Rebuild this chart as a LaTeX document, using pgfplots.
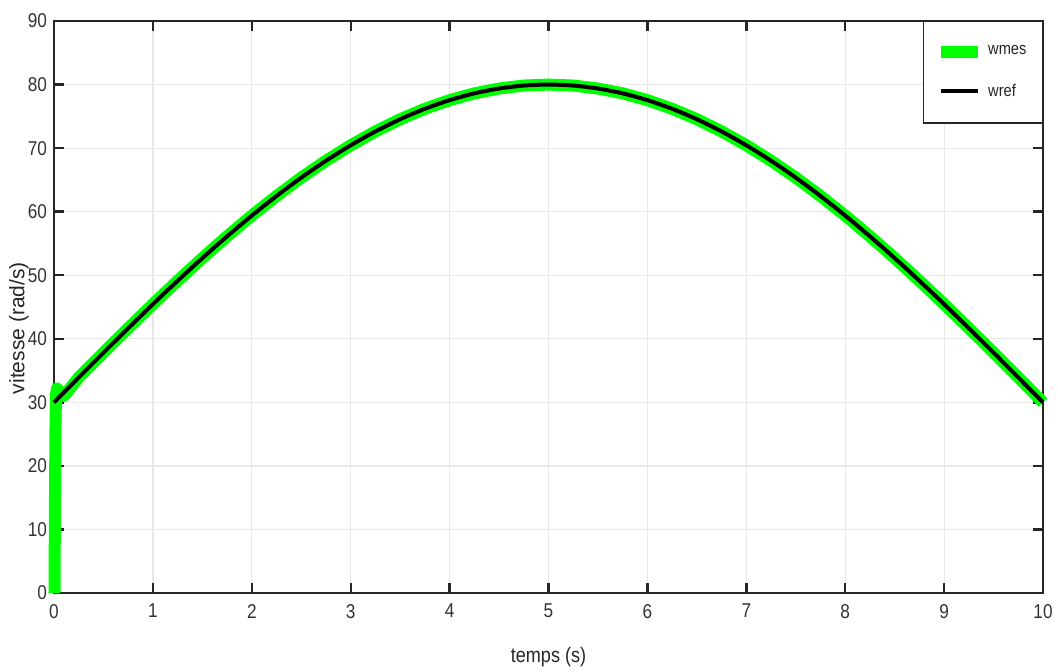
\documentclass[border=0pt]{standalone}
\usepackage{pgfplots}
\pgfplotsset{compat=1.18}
\usepackage{fontspec}
\setmainfont{Liberation Sans}
\newfontfamily\narrowfont[FakeStretch=0.86]{Liberation Sans}
\definecolor{mgreen}{RGB}{0,255,0}

\pgfplotstableread{
t w
0 30
0.25 33.92
0.5 37.82
0.75 41.67
1 45.45
1.25 49.13
1.5 52.70
1.75 56.12
2 59.39
2.25 62.47
2.5 65.36
2.75 68.02
3 70.45
3.25 72.63
3.5 74.55
3.75 76.19
4 77.55
4.25 78.62
4.5 79.38
4.75 79.85
5 80
5.25 79.85
5.5 79.38
5.75 78.62
6 77.55
6.25 76.19
6.5 74.55
6.75 72.63
7 70.45
7.25 68.02
7.5 65.36
7.75 62.47
8 59.39
8.25 56.12
8.5 52.70
8.75 49.13
9 45.45
9.25 41.67
9.5 37.82
9.75 33.92
10 30
}\wref

\pgfplotstableread{
t w
0.005 0
0.01 15
0.015 26
0.02 31.2
0.03 32.2
0.06 31.6
0.1 31.0
0.25 33.92
0.5 37.82
0.75 41.67
1 45.45
1.25 49.13
1.5 52.70
1.75 56.12
2 59.39
2.25 62.47
2.5 65.36
2.75 68.02
3 70.45
3.25 72.63
3.5 74.55
3.75 76.19
4 77.55
4.25 78.62
4.5 79.38
4.75 79.85
5 80
5.25 79.85
5.5 79.38
5.75 78.62
6 77.55
6.25 76.19
6.5 74.55
6.75 72.63
7 70.45
7.25 68.02
7.5 65.36
7.75 62.47
8 59.39
8.25 56.12
8.5 52.70
8.75 49.13
9 45.45
9.25 41.67
9.5 37.82
9.75 33.92
10 30
}\wmes

\begin{document}
\begin{tikzpicture}
\begin{axis}[
  scale only axis,
  width=494.5pt, height=286pt,
  xmin=0, xmax=10, ymin=0, ymax=90,
  xtick={0,1,...,10}, ytick={0,10,...,90},
  tick align=inside,
  major tick length=5pt,
  tick style={black!85, line width=1.2pt},
  axis line style={black!85, line width=1pt},
  grid=major, grid style={black!9, line width=0.6pt},
  ticklabel style={font=\narrowfont\fontsize{10}{11}\selectfont, text=black!80},
  xticklabel style={yshift=-2pt},
  /pgf/number format/assume math mode=true,
  xlabel={temps (s)}, ylabel={vitesse (rad/s)},
  xlabel style={font=\narrowfont\fontsize{10.5}{11}\selectfont, text=black!85,
    at={(axis description cs:0.5,-0.1119)}, anchor=center},
  ylabel style={font=\fontsize{10.5}{11}\selectfont, text=black!85,
    at={(axis description cs:-0.0354,0.463)}, anchor=center},
  clip=false,
  legend cell align=left,
  legend style={at={(1,1)}, anchor=north east, draw=black!85, line width=0.6pt,
    font=\narrowfont\fontsize{8.5}{9}\selectfont, inner xsep=6pt, inner ysep=10pt,
    row sep=9pt, text=black!85},
  legend image code/.code={\draw[#1] (0cm,0cm) -- (0.65cm,0cm);},
]
\addplot[mgreen, line width=6pt, line join=round] table[x=t, y=w] {\wmes};
\addlegendentry{wmes}
\addplot[black, line width=2pt, smooth] table[x=t, y=w] {\wref};
\addlegendentry{wref}
\end{axis}
\pgfresetboundingbox
\path (-27pt,-39pt) rectangle (502pt,296.5pt);
\end{tikzpicture}
\end{document}
